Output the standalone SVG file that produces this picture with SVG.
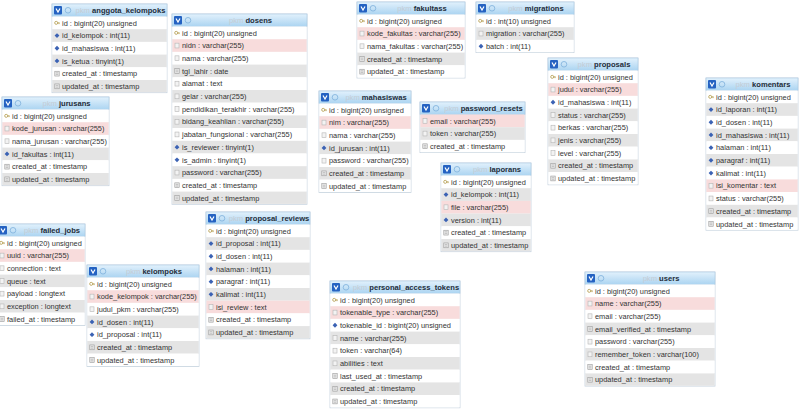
<svg xmlns="http://www.w3.org/2000/svg" xmlns:xlink="http://www.w3.org/1999/xlink" width="801" height="410" viewBox="0 0 801 410">
<style>
.frame{fill:#fff;stroke:#c5d2de;stroke-width:0.8}
.hd{fill:url(#hg);stroke:#a9c8e2;stroke-width:0.6}
.w{fill:#ffffff}
.g{fill:#e4e4e4}
.p{fill:#f8dcdc}
.ht{font-family:"Liberation Sans",Arial,sans-serif;font-size:7.6px;font-weight:bold;fill:#1f2d3a;text-anchor:middle}
.db{fill:#c4ccd4;font-weight:normal}
.rt{font-family:"Liberation Sans",Arial,sans-serif;font-size:7.4px;fill:#333}
</style>
<defs>
<linearGradient id="hg" x1="0" y1="0" x2="0" y2="1">
<stop offset="0" stop-color="#e2f1fc"/>
<stop offset="1" stop-color="#abd4f1"/>
</linearGradient>
<g id="hi">
<rect x="2" y="2" width="8" height="8.5" rx="1" fill="#2462c2"/>
<path d="M4,4.5 L6,8 L8,4.5" fill="none" stroke="#fff" stroke-width="1.2"/>
<circle cx="16" cy="6.3" r="2.8" fill="none" stroke="#86b5df" stroke-width="0.9"/>
</g>
<g id="ik"><circle cx="-0.8" cy="0" r="1.5" fill="none" stroke="#b39a4a" stroke-width="0.8"/><path d="M0.6,0 H2.6 M2,0 V1.3" stroke="#b39a4a" stroke-width="0.8" fill="none"/></g>
<g id="in"><path d="M0,-2.4 L2.4,0 L0,2.4 L-2.4,0Z" fill="#3b62b4"/></g>
<g id="is"><rect x="-2" y="-2.4" width="4" height="4.8" fill="#f3f3f3" stroke="#b5b5b5" stroke-width="0.6"/></g>
<g id="it"><rect x="-2.2" y="-2.4" width="4.4" height="4.8" fill="#eaeaea" stroke="#9a9a9a" stroke-width="0.6"/><path d="M-1.2,-0.8 H1.2 M-1.2,0.8 H1.2" stroke="#9a9a9a" stroke-width="0.5"/></g>
</defs>

<g id="connectors"/>

<!-- anggota_kelompoks -->
<g id="anggota_kelompoks" transform="translate(52,4)">
<rect class="frame" width="115" height="88.7"/>
<rect class="hd" width="115" height="12.5"/>
<use xlink:href="#hi"/>
<text class="ht" x="68.5" y="9.3"><tspan class="db">pkm</tspan> anggota_kelompoks</text>
<rect class="w" x="0.4" y="12.5" width="114.2" height="12.7"/><use xlink:href="#ik" x="5" y="18.85"/><text class="rt" x="10" y="21.5">id : bigint(20) unsigned</text>
<rect class="g" x="0.4" y="25.2" width="114.2" height="12.7"/><use xlink:href="#in" x="5" y="31.55"/><text class="rt" x="10" y="34.2">id_kelompok : int(11)</text>
<rect class="w" x="0.4" y="37.9" width="114.2" height="12.7"/><use xlink:href="#in" x="5" y="44.25"/><text class="rt" x="10" y="46.9">id_mahasiswa : int(11)</text>
<rect class="g" x="0.4" y="50.6" width="114.2" height="12.7"/><use xlink:href="#in" x="5" y="56.95"/><text class="rt" x="10" y="59.6">is_ketua : tinyint(1)</text>
<rect class="w" x="0.4" y="63.3" width="114.2" height="12.7"/><use xlink:href="#it" x="5" y="69.65"/><text class="rt" x="10" y="72.3">created_at : timestamp</text>
<rect class="g" x="0.4" y="76" width="114.2" height="12.3"/><use xlink:href="#it" x="5" y="82.35"/><text class="rt" x="10" y="85">updated_at : timestamp</text>
</g>

<!-- dosens -->
<g id="dosens" transform="translate(172,14)">
<rect class="frame" width="135" height="190.3"/>
<rect class="hd" width="135" height="12.5"/>
<use xlink:href="#hi"/>
<text class="ht" x="78.5" y="9.3"><tspan class="db">pkm</tspan> dosens</text>
<rect class="w" x="0.4" y="12.5" width="134.2" height="12.7"/><use xlink:href="#ik" x="5" y="18.85"/><text class="rt" x="10" y="21.5">id : bigint(20) unsigned</text>
<rect class="p" x="0.4" y="25.2" width="134.2" height="12.7"/><use xlink:href="#is" x="5" y="31.55"/><text class="rt" x="10" y="34.2">nidn : varchar(255)</text>
<rect class="w" x="0.4" y="37.9" width="134.2" height="12.7"/><use xlink:href="#is" x="5" y="44.25"/><text class="rt" x="10" y="46.9">nama : varchar(255)</text>
<rect class="g" x="0.4" y="50.6" width="134.2" height="12.7"/><use xlink:href="#it" x="5" y="56.95"/><text class="rt" x="10" y="59.6">tgl_lahir : date</text>
<rect class="w" x="0.4" y="63.3" width="134.2" height="12.7"/><use xlink:href="#is" x="5" y="69.65"/><text class="rt" x="10" y="72.3">alamat : text</text>
<rect class="g" x="0.4" y="76" width="134.2" height="12.7"/><use xlink:href="#is" x="5" y="82.35"/><text class="rt" x="10" y="85">gelar : varchar(255)</text>
<rect class="w" x="0.4" y="88.7" width="134.2" height="12.7"/><use xlink:href="#is" x="5" y="95.05"/><text class="rt" x="10" y="97.7">pendidikan_terakhir : varchar(255)</text>
<rect class="g" x="0.4" y="101.4" width="134.2" height="12.7"/><use xlink:href="#is" x="5" y="107.75"/><text class="rt" x="10" y="110.4">bidang_keahlian : varchar(255)</text>
<rect class="w" x="0.4" y="114.1" width="134.2" height="12.7"/><use xlink:href="#is" x="5" y="120.45"/><text class="rt" x="10" y="123.1">jabatan_fungsional : varchar(255)</text>
<rect class="g" x="0.4" y="126.8" width="134.2" height="12.7"/><use xlink:href="#in" x="5" y="133.15"/><text class="rt" x="10" y="135.8">is_reviewer : tinyint(1)</text>
<rect class="w" x="0.4" y="139.5" width="134.2" height="12.7"/><use xlink:href="#in" x="5" y="145.85"/><text class="rt" x="10" y="148.5">is_admin : tinyint(1)</text>
<rect class="g" x="0.4" y="152.2" width="134.2" height="12.7"/><use xlink:href="#is" x="5" y="158.55"/><text class="rt" x="10" y="161.2">password : varchar(255)</text>
<rect class="w" x="0.4" y="164.9" width="134.2" height="12.7"/><use xlink:href="#it" x="5" y="171.25"/><text class="rt" x="10" y="173.9">created_at : timestamp</text>
<rect class="g" x="0.4" y="177.6" width="134.2" height="12.3"/><use xlink:href="#it" x="5" y="183.95"/><text class="rt" x="10" y="186.6">updated_at : timestamp</text>
</g>

<!-- jurusans -->
<g id="jurusans" transform="translate(2,97)">
<rect class="frame" width="107" height="88.7"/>
<rect class="hd" width="107" height="12.5"/>
<use xlink:href="#hi"/>
<text class="ht" x="64.5" y="9.3"><tspan class="db">pkm</tspan> jurusans</text>
<rect class="w" x="0.4" y="12.5" width="106.2" height="12.7"/><use xlink:href="#ik" x="5" y="18.85"/><text class="rt" x="10" y="21.5">id : bigint(20) unsigned</text>
<rect class="p" x="0.4" y="25.2" width="106.2" height="12.7"/><use xlink:href="#is" x="5" y="31.55"/><text class="rt" x="10" y="34.2">kode_jurusan : varchar(255)</text>
<rect class="w" x="0.4" y="37.9" width="106.2" height="12.7"/><use xlink:href="#is" x="5" y="44.25"/><text class="rt" x="10" y="46.9">nama_jurusan : varchar(255)</text>
<rect class="g" x="0.4" y="50.6" width="106.2" height="12.7"/><use xlink:href="#in" x="5" y="56.95"/><text class="rt" x="10" y="59.6">id_fakultas : int(11)</text>
<rect class="w" x="0.4" y="63.3" width="106.2" height="12.7"/><use xlink:href="#it" x="5" y="69.65"/><text class="rt" x="10" y="72.3">created_at : timestamp</text>
<rect class="g" x="0.4" y="76" width="106.2" height="12.3"/><use xlink:href="#it" x="5" y="82.35"/><text class="rt" x="10" y="85">updated_at : timestamp</text>
</g>

<!-- fakultass -->
<g id="fakultass" transform="translate(357,2)">
<rect class="frame" width="108" height="76"/>
<rect class="hd" width="108" height="12.5"/>
<use xlink:href="#hi"/>
<text class="ht" x="65" y="9.3"><tspan class="db">pkm</tspan> fakultass</text>
<rect class="w" x="0.4" y="12.5" width="107.2" height="12.7"/><use xlink:href="#ik" x="5" y="18.85"/><text class="rt" x="10" y="21.5">id : bigint(20) unsigned</text>
<rect class="p" x="0.4" y="25.2" width="107.2" height="12.7"/><use xlink:href="#is" x="5" y="31.55"/><text class="rt" x="10" y="34.2">kode_fakultas : varchar(255)</text>
<rect class="w" x="0.4" y="37.9" width="107.2" height="12.7"/><use xlink:href="#is" x="5" y="44.25"/><text class="rt" x="10" y="46.9">nama_fakultas : varchar(255)</text>
<rect class="g" x="0.4" y="50.6" width="107.2" height="12.7"/><use xlink:href="#it" x="5" y="56.95"/><text class="rt" x="10" y="59.6">created_at : timestamp</text>
<rect class="w" x="0.4" y="63.3" width="107.2" height="12.3"/><use xlink:href="#it" x="5" y="69.65"/><text class="rt" x="10" y="72.3">updated_at : timestamp</text>
</g>

<!-- migrations -->
<g id="migrations" transform="translate(476,2)">
<rect class="frame" width="98" height="50.6"/>
<rect class="hd" width="98" height="12.5"/>
<use xlink:href="#hi"/>
<text class="ht" x="60" y="9.3"><tspan class="db">pkm</tspan> migrations</text>
<rect class="w" x="0.4" y="12.5" width="97.2" height="12.7"/><use xlink:href="#ik" x="5" y="18.85"/><text class="rt" x="10" y="21.5">id : int(10) unsigned</text>
<rect class="g" x="0.4" y="25.2" width="97.2" height="12.7"/><use xlink:href="#is" x="5" y="31.55"/><text class="rt" x="10" y="34.2">migration : varchar(255)</text>
<rect class="w" x="0.4" y="37.9" width="97.2" height="12.3"/><use xlink:href="#in" x="5" y="44.25"/><text class="rt" x="10" y="46.9">batch : int(11)</text>
</g>

<!-- mahasiswas -->
<g id="mahasiswas" transform="translate(319,91)">
<rect class="frame" width="92" height="101.4"/>
<rect class="hd" width="92" height="12.5"/>
<use xlink:href="#hi"/>
<text class="ht" x="57" y="9.3"><tspan class="db">pkm</tspan> mahasiswas</text>
<rect class="w" x="0.4" y="12.5" width="91.2" height="12.7"/><use xlink:href="#ik" x="5" y="18.85"/><text class="rt" x="10" y="21.5">id : bigint(20) unsigned</text>
<rect class="p" x="0.4" y="25.2" width="91.2" height="12.7"/><use xlink:href="#is" x="5" y="31.55"/><text class="rt" x="10" y="34.2">nim : varchar(255)</text>
<rect class="w" x="0.4" y="37.9" width="91.2" height="12.7"/><use xlink:href="#is" x="5" y="44.25"/><text class="rt" x="10" y="46.9">nama : varchar(255)</text>
<rect class="g" x="0.4" y="50.6" width="91.2" height="12.7"/><use xlink:href="#in" x="5" y="56.95"/><text class="rt" x="10" y="59.6">id_jurusan : int(11)</text>
<rect class="w" x="0.4" y="63.3" width="91.2" height="12.7"/><use xlink:href="#is" x="5" y="69.65"/><text class="rt" x="10" y="72.3">password : varchar(255)</text>
<rect class="g" x="0.4" y="76" width="91.2" height="12.7"/><use xlink:href="#it" x="5" y="82.35"/><text class="rt" x="10" y="85">created_at : timestamp</text>
<rect class="w" x="0.4" y="88.7" width="91.2" height="12.3"/><use xlink:href="#it" x="5" y="95.05"/><text class="rt" x="10" y="97.7">updated_at : timestamp</text>
</g>

<!-- password_resets -->
<g id="password_resets" transform="translate(420,102)">
<rect class="frame" width="105" height="50.6"/>
<rect class="hd" width="105" height="12.5"/>
<use xlink:href="#hi"/>
<text class="ht" x="63.5" y="9.3"><tspan class="db">pkm</tspan> password_resets</text>
<rect class="p" x="0.4" y="12.5" width="104.2" height="12.7"/><use xlink:href="#is" x="5" y="18.85"/><text class="rt" x="10" y="21.5">email : varchar(255)</text>
<rect class="g" x="0.4" y="25.2" width="104.2" height="12.7"/><use xlink:href="#is" x="5" y="31.55"/><text class="rt" x="10" y="34.2">token : varchar(255)</text>
<rect class="w" x="0.4" y="37.9" width="104.2" height="12.3"/><use xlink:href="#it" x="5" y="44.25"/><text class="rt" x="10" y="46.9">created_at : timestamp</text>
</g>

<!-- laporans -->
<g id="laporans" transform="translate(441,163)">
<rect class="frame" width="90" height="88.7"/>
<rect class="hd" width="90" height="12.5"/>
<use xlink:href="#hi"/>
<text class="ht" x="56" y="9.3"><tspan class="db">pkm</tspan> laporans</text>
<rect class="w" x="0.4" y="12.5" width="89.2" height="12.7"/><use xlink:href="#ik" x="5" y="18.85"/><text class="rt" x="10" y="21.5">id : bigint(20) unsigned</text>
<rect class="g" x="0.4" y="25.2" width="89.2" height="12.7"/><use xlink:href="#in" x="5" y="31.55"/><text class="rt" x="10" y="34.2">id_kelompok : int(11)</text>
<rect class="p" x="0.4" y="37.9" width="89.2" height="12.7"/><use xlink:href="#is" x="5" y="44.25"/><text class="rt" x="10" y="46.9">file : varchar(255)</text>
<rect class="g" x="0.4" y="50.6" width="89.2" height="12.7"/><use xlink:href="#in" x="5" y="56.95"/><text class="rt" x="10" y="59.6">version : int(11)</text>
<rect class="w" x="0.4" y="63.3" width="89.2" height="12.7"/><use xlink:href="#it" x="5" y="69.65"/><text class="rt" x="10" y="72.3">created_at : timestamp</text>
<rect class="g" x="0.4" y="76" width="89.2" height="12.3"/><use xlink:href="#it" x="5" y="82.35"/><text class="rt" x="10" y="85">updated_at : timestamp</text>
</g>

<!-- proposals -->
<g id="proposals" transform="translate(548,58)">
<rect class="frame" width="90" height="126.8"/>
<rect class="hd" width="90" height="12.5"/>
<use xlink:href="#hi"/>
<text class="ht" x="56" y="9.3"><tspan class="db">pkm</tspan> proposals</text>
<rect class="w" x="0.4" y="12.5" width="89.2" height="12.7"/><use xlink:href="#ik" x="5" y="18.85"/><text class="rt" x="10" y="21.5">id : bigint(20) unsigned</text>
<rect class="p" x="0.4" y="25.2" width="89.2" height="12.7"/><use xlink:href="#is" x="5" y="31.55"/><text class="rt" x="10" y="34.2">judul : varchar(255)</text>
<rect class="w" x="0.4" y="37.9" width="89.2" height="12.7"/><use xlink:href="#in" x="5" y="44.25"/><text class="rt" x="10" y="46.9">id_mahasiswa : int(11)</text>
<rect class="g" x="0.4" y="50.6" width="89.2" height="12.7"/><use xlink:href="#is" x="5" y="56.95"/><text class="rt" x="10" y="59.6">status : varchar(255)</text>
<rect class="w" x="0.4" y="63.3" width="89.2" height="12.7"/><use xlink:href="#is" x="5" y="69.65"/><text class="rt" x="10" y="72.3">berkas : varchar(255)</text>
<rect class="g" x="0.4" y="76" width="89.2" height="12.7"/><use xlink:href="#is" x="5" y="82.35"/><text class="rt" x="10" y="85">jenis : varchar(255)</text>
<rect class="w" x="0.4" y="88.7" width="89.2" height="12.7"/><use xlink:href="#is" x="5" y="95.05"/><text class="rt" x="10" y="97.7">level : varchar(255)</text>
<rect class="g" x="0.4" y="101.4" width="89.2" height="12.7"/><use xlink:href="#it" x="5" y="107.75"/><text class="rt" x="10" y="110.4">created_at : timestamp</text>
<rect class="w" x="0.4" y="114.1" width="89.2" height="12.3"/><use xlink:href="#it" x="5" y="120.45"/><text class="rt" x="10" y="123.1">updated_at : timestamp</text>
</g>

<!-- komentars -->
<g id="komentars" transform="translate(706,78)">
<rect class="frame" width="92" height="152.2"/>
<rect class="hd" width="92" height="12.5"/>
<use xlink:href="#hi"/>
<text class="ht" x="57" y="9.3"><tspan class="db">pkm</tspan> komentars</text>
<rect class="w" x="0.4" y="12.5" width="91.2" height="12.7"/><use xlink:href="#ik" x="5" y="18.85"/><text class="rt" x="10" y="21.5">id : bigint(20) unsigned</text>
<rect class="g" x="0.4" y="25.2" width="91.2" height="12.7"/><use xlink:href="#in" x="5" y="31.55"/><text class="rt" x="10" y="34.2">id_laporan : int(11)</text>
<rect class="w" x="0.4" y="37.9" width="91.2" height="12.7"/><use xlink:href="#in" x="5" y="44.25"/><text class="rt" x="10" y="46.9">id_dosen : int(11)</text>
<rect class="g" x="0.4" y="50.6" width="91.2" height="12.7"/><use xlink:href="#in" x="5" y="56.95"/><text class="rt" x="10" y="59.6">id_mahasiswa : int(11)</text>
<rect class="w" x="0.4" y="63.3" width="91.2" height="12.7"/><use xlink:href="#in" x="5" y="69.65"/><text class="rt" x="10" y="72.3">halaman : int(11)</text>
<rect class="g" x="0.4" y="76" width="91.2" height="12.7"/><use xlink:href="#in" x="5" y="82.35"/><text class="rt" x="10" y="85">paragraf : int(11)</text>
<rect class="w" x="0.4" y="88.7" width="91.2" height="12.7"/><use xlink:href="#in" x="5" y="95.05"/><text class="rt" x="10" y="97.7">kalimat : int(11)</text>
<rect class="p" x="0.4" y="101.4" width="91.2" height="12.7"/><use xlink:href="#is" x="5" y="107.75"/><text class="rt" x="10" y="110.4">isi_komentar : text</text>
<rect class="w" x="0.4" y="114.1" width="91.2" height="12.7"/><use xlink:href="#is" x="5" y="120.45"/><text class="rt" x="10" y="123.1">status : varchar(255)</text>
<rect class="g" x="0.4" y="126.8" width="91.2" height="12.7"/><use xlink:href="#it" x="5" y="133.15"/><text class="rt" x="10" y="135.8">created_at : timestamp</text>
<rect class="w" x="0.4" y="139.5" width="91.2" height="12.3"/><use xlink:href="#it" x="5" y="145.85"/><text class="rt" x="10" y="148.5">updated_at : timestamp</text>
</g>

<!-- failed_jobs -->
<g id="failed_jobs" transform="translate(-3,224)">
<rect class="frame" width="88" height="101.4"/>
<rect class="hd" width="88" height="12.5"/>
<use xlink:href="#hi"/>
<text class="ht" x="55" y="9.3"><tspan class="db">pkm</tspan> failed_jobs</text>
<rect class="w" x="0.4" y="12.5" width="87.2" height="12.7"/><use xlink:href="#ik" x="5" y="18.85"/><text class="rt" x="10" y="21.5">id : bigint(20) unsigned</text>
<rect class="p" x="0.4" y="25.2" width="87.2" height="12.7"/><use xlink:href="#is" x="5" y="31.55"/><text class="rt" x="10" y="34.2">uuid : varchar(255)</text>
<rect class="w" x="0.4" y="37.9" width="87.2" height="12.7"/><use xlink:href="#is" x="5" y="44.25"/><text class="rt" x="10" y="46.9">connection : text</text>
<rect class="g" x="0.4" y="50.6" width="87.2" height="12.7"/><use xlink:href="#is" x="5" y="56.95"/><text class="rt" x="10" y="59.6">queue : text</text>
<rect class="w" x="0.4" y="63.3" width="87.2" height="12.7"/><use xlink:href="#is" x="5" y="69.65"/><text class="rt" x="10" y="72.3">payload : longtext</text>
<rect class="g" x="0.4" y="76" width="87.2" height="12.7"/><use xlink:href="#is" x="5" y="82.35"/><text class="rt" x="10" y="85">exception : longtext</text>
<rect class="w" x="0.4" y="88.7" width="87.2" height="12.3"/><use xlink:href="#it" x="5" y="95.05"/><text class="rt" x="10" y="97.7">failed_at : timestamp</text>
</g>

<!-- kelompoks -->
<g id="kelompoks" transform="translate(87,265)">
<rect class="frame" width="112" height="101.4"/>
<rect class="hd" width="112" height="12.5"/>
<use xlink:href="#hi"/>
<text class="ht" x="67" y="9.3"><tspan class="db">pkm</tspan> kelompoks</text>
<rect class="w" x="0.4" y="12.5" width="111.2" height="12.7"/><use xlink:href="#ik" x="5" y="18.85"/><text class="rt" x="10" y="21.5">id : bigint(20) unsigned</text>
<rect class="p" x="0.4" y="25.2" width="111.2" height="12.7"/><use xlink:href="#is" x="5" y="31.55"/><text class="rt" x="10" y="34.2">kode_kelompok : varchar(255)</text>
<rect class="w" x="0.4" y="37.9" width="111.2" height="12.7"/><use xlink:href="#is" x="5" y="44.25"/><text class="rt" x="10" y="46.9">judul_pkm : varchar(255)</text>
<rect class="g" x="0.4" y="50.6" width="111.2" height="12.7"/><use xlink:href="#in" x="5" y="56.95"/><text class="rt" x="10" y="59.6">id_dosen : int(11)</text>
<rect class="w" x="0.4" y="63.3" width="111.2" height="12.7"/><use xlink:href="#in" x="5" y="69.65"/><text class="rt" x="10" y="72.3">id_proposal : int(11)</text>
<rect class="g" x="0.4" y="76" width="111.2" height="12.7"/><use xlink:href="#it" x="5" y="82.35"/><text class="rt" x="10" y="85">created_at : timestamp</text>
<rect class="w" x="0.4" y="88.7" width="111.2" height="12.3"/><use xlink:href="#it" x="5" y="95.05"/><text class="rt" x="10" y="97.7">updated_at : timestamp</text>
</g>

<!-- proposal_reviews -->
<g id="proposal_reviews" transform="translate(206,212)">
<rect class="frame" width="104" height="126.8"/>
<rect class="hd" width="104" height="12.5"/>
<use xlink:href="#hi"/>
<text class="ht" x="63" y="9.3"><tspan class="db">pkm</tspan> proposal_reviews</text>
<rect class="w" x="0.4" y="12.5" width="103.2" height="12.7"/><use xlink:href="#ik" x="5" y="18.85"/><text class="rt" x="10" y="21.5">id : bigint(20) unsigned</text>
<rect class="g" x="0.4" y="25.2" width="103.2" height="12.7"/><use xlink:href="#in" x="5" y="31.55"/><text class="rt" x="10" y="34.2">id_proposal : int(11)</text>
<rect class="w" x="0.4" y="37.9" width="103.2" height="12.7"/><use xlink:href="#in" x="5" y="44.25"/><text class="rt" x="10" y="46.9">id_dosen : int(11)</text>
<rect class="g" x="0.4" y="50.6" width="103.2" height="12.7"/><use xlink:href="#in" x="5" y="56.95"/><text class="rt" x="10" y="59.6">halaman : int(11)</text>
<rect class="w" x="0.4" y="63.3" width="103.2" height="12.7"/><use xlink:href="#in" x="5" y="69.65"/><text class="rt" x="10" y="72.3">paragraf : int(11)</text>
<rect class="g" x="0.4" y="76" width="103.2" height="12.7"/><use xlink:href="#in" x="5" y="82.35"/><text class="rt" x="10" y="85">kalimat : int(11)</text>
<rect class="p" x="0.4" y="88.7" width="103.2" height="12.7"/><use xlink:href="#is" x="5" y="95.05"/><text class="rt" x="10" y="97.7">isi_review : text</text>
<rect class="w" x="0.4" y="101.4" width="103.2" height="12.7"/><use xlink:href="#it" x="5" y="107.75"/><text class="rt" x="10" y="110.4">created_at : timestamp</text>
<rect class="g" x="0.4" y="114.1" width="103.2" height="12.3"/><use xlink:href="#it" x="5" y="120.45"/><text class="rt" x="10" y="123.1">updated_at : timestamp</text>
</g>

<!-- personal_access_tokens -->
<g id="personal_access_tokens" transform="translate(330,281)">
<rect class="frame" width="130" height="126.8"/>
<rect class="hd" width="130" height="12.5"/>
<use xlink:href="#hi"/>
<text class="ht" x="76" y="9.3"><tspan class="db">pkm</tspan> personal_access_tokens</text>
<rect class="w" x="0.4" y="12.5" width="129.2" height="12.7"/><use xlink:href="#ik" x="5" y="18.85"/><text class="rt" x="10" y="21.5">id : bigint(20) unsigned</text>
<rect class="p" x="0.4" y="25.2" width="129.2" height="12.7"/><use xlink:href="#is" x="5" y="31.55"/><text class="rt" x="10" y="34.2">tokenable_type : varchar(255)</text>
<rect class="w" x="0.4" y="37.9" width="129.2" height="12.7"/><use xlink:href="#in" x="5" y="44.25"/><text class="rt" x="10" y="46.9">tokenable_id : bigint(20) unsigned</text>
<rect class="g" x="0.4" y="50.6" width="129.2" height="12.7"/><use xlink:href="#is" x="5" y="56.95"/><text class="rt" x="10" y="59.6">name : varchar(255)</text>
<rect class="w" x="0.4" y="63.3" width="129.2" height="12.7"/><use xlink:href="#is" x="5" y="69.65"/><text class="rt" x="10" y="72.3">token : varchar(64)</text>
<rect class="g" x="0.4" y="76" width="129.2" height="12.7"/><use xlink:href="#is" x="5" y="82.35"/><text class="rt" x="10" y="85">abilities : text</text>
<rect class="w" x="0.4" y="88.7" width="129.2" height="12.7"/><use xlink:href="#it" x="5" y="95.05"/><text class="rt" x="10" y="97.7">last_used_at : timestamp</text>
<rect class="g" x="0.4" y="101.4" width="129.2" height="12.7"/><use xlink:href="#it" x="5" y="107.75"/><text class="rt" x="10" y="110.4">created_at : timestamp</text>
<rect class="w" x="0.4" y="114.1" width="129.2" height="12.3"/><use xlink:href="#it" x="5" y="120.45"/><text class="rt" x="10" y="123.1">updated_at : timestamp</text>
</g>

<!-- users -->
<g id="users" transform="translate(585,272)">
<rect class="frame" width="130" height="114.1"/>
<rect class="hd" width="130" height="12.5"/>
<use xlink:href="#hi"/>
<text class="ht" x="76" y="9.3"><tspan class="db">pkm</tspan> users</text>
<rect class="w" x="0.4" y="12.5" width="129.2" height="12.7"/><use xlink:href="#ik" x="5" y="18.85"/><text class="rt" x="10" y="21.5">id : bigint(20) unsigned</text>
<rect class="p" x="0.4" y="25.2" width="129.2" height="12.7"/><use xlink:href="#is" x="5" y="31.55"/><text class="rt" x="10" y="34.2">name : varchar(255)</text>
<rect class="w" x="0.4" y="37.9" width="129.2" height="12.7"/><use xlink:href="#is" x="5" y="44.25"/><text class="rt" x="10" y="46.9">email : varchar(255)</text>
<rect class="g" x="0.4" y="50.6" width="129.2" height="12.7"/><use xlink:href="#it" x="5" y="56.95"/><text class="rt" x="10" y="59.6">email_verified_at : timestamp</text>
<rect class="w" x="0.4" y="63.3" width="129.2" height="12.7"/><use xlink:href="#is" x="5" y="69.65"/><text class="rt" x="10" y="72.3">password : varchar(255)</text>
<rect class="g" x="0.4" y="76" width="129.2" height="12.7"/><use xlink:href="#is" x="5" y="82.35"/><text class="rt" x="10" y="85">remember_token : varchar(100)</text>
<rect class="w" x="0.4" y="88.7" width="129.2" height="12.7"/><use xlink:href="#it" x="5" y="95.05"/><text class="rt" x="10" y="97.7">created_at : timestamp</text>
<rect class="g" x="0.4" y="101.4" width="129.2" height="12.3"/><use xlink:href="#it" x="5" y="107.75"/><text class="rt" x="10" y="110.4">updated_at : timestamp</text>
</g>
</svg>
